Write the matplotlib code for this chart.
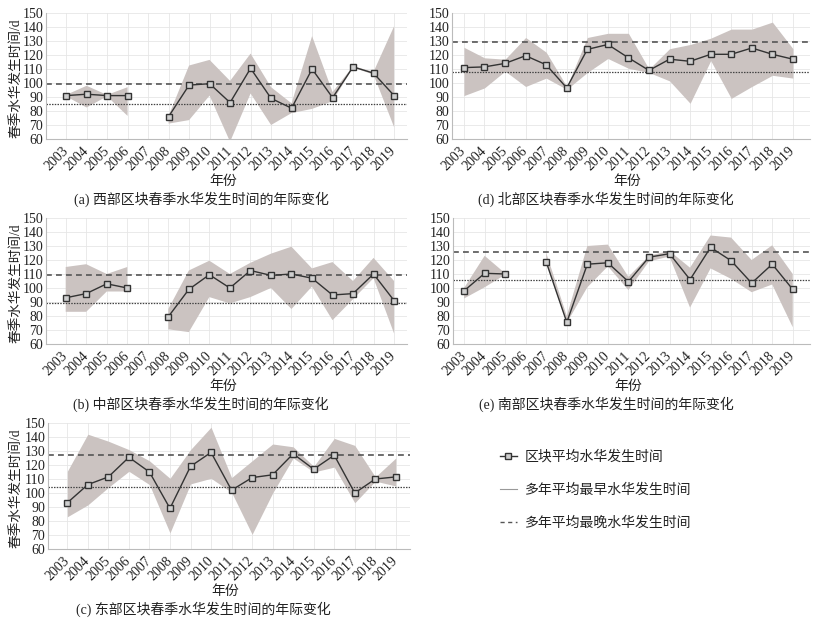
import numpy as np
import matplotlib
matplotlib.use("Agg")
import matplotlib.pyplot as plt
from matplotlib.lines import Line2D

plt.rcParams['font.family'] = ['Liberation Serif', 'Noto Sans CJK SC']
plt.rcParams['axes.unicode_minus'] = False

nan = np.nan
years = list(range(2003, 2020))
year_labels = [str(y) for y in years]

# (a) West
west_mean = [91, 92, 91, 91, nan, 76, 98.5, 99.5, 86, 110.5, 89, 82, 110, 89.5, 111.5, 107, 91]
west_upper = [91.5, 98, 91.5, 97, nan, 76.5, 112.5, 116.5, 101.5, 121, 97, 85.5, 133.5, 93.5, 112, 108, 140.5]
west_lower = [90.5, 82.5, 90.5, 76.5, nan, 71, 73.5, 91, 58, 92.5, 70, 78.5, 81.5, 87, 111, 106, 68.5]
west_early, west_late = 84.8, 99.3

# (d) North
north_mean = [111, 111.5, 114, 119.5, 113, 96.5, 124, 127.5, 118, 109, 117, 115.5, 120.5, 120.5, 125, 120.5, 117]
north_upper = [125.5, 118, 117, 132.5, 122, 97.5, 132.5, 135.5, 135.5, 110, 124.5, 127.5, 132, 138.5, 138.5, 143.5, 124.5]
north_lower = [91, 96.5, 108.5, 97.5, 103.5, 95.5, 107.5, 117.5, 110.5, 107.5, 101.5, 85.5, 116, 89, 97.5, 105.5, 103.5]
north_early, north_late = 107.7, 129.6

# (b) Central
central_mean = [93, 96, 103, 100, nan, 79.5, 99, 109.5, 100, 112.5, 109, 110, 107, 95, 96, 110, 91]
central_upper = [115, 117, 110, 115, nan, 85, 112.5, 119.5, 110, 118, 124.5, 129.5, 114, 118.5, 105, 121.5, 105]
central_lower = [83, 83, 97.5, 97.5, nan, 70.5, 68.5, 93.5, 89, 93.5, 100, 85, 101, 77, 92, 107, 67.5]
central_early, central_late = 89.3, 109.0

# (e) South
south_mean = [98, 110.5, 110, nan, 118.5, 75.5, 117, 118, 104.5, 122, 124.5, 106, 129, 119.5, 103.5, 117, 99]
south_upper = [100, 123, 110.5, nan, 125, 80, 130, 131, 108, 123, 126.5, 114.5, 137.5, 136, 120, 130.5, 110]
south_lower = [92.5, 100.5, 109.5, nan, 118, 75, 100.5, 115.5, 98.5, 119, 122.5, 86, 114, 106.5, 97, 102.5, 72]
south_early, south_late = 106.0, 125.7

# (c) East
east_mean = [93, 106, 111.5, 125.5, 115, 89, 119, 129, 102, 111, 113, 128, 117, 127, 100, 110, 111.5]
east_upper = [115.5, 142, 137, 131, 123, 110.5, 131, 147, 111, 123, 135, 133, 119, 139, 134, 111.5, 125]
east_lower = [83, 91.5, 104, 115.5, 106, 71.5, 106.5, 110.5, 100.5, 70.5, 100, 125, 115, 118.5, 93, 108.5, 105]
east_early, east_late = 104.0, 127.5

captions = {
    'a': '(a) 西部区块春季水华发生时间的年际变化',
    'd': '(d) 北部区块春季水华发生时间的年际变化',
    'b': '(b) 中部区块春季水华发生时间的年际变化',
    'e': '(e) 南部区块春季水华发生时间的年际变化',
    'c': '(c) 东部区块春季水华发生时间的年际变化',
}
ylabel_text = '春季水华发生时间/d'
xlabel_text = '年份'
legend_labels = ['区块平均水华发生时间', '多年平均最早水华发生时间', '多年平均最晚水华发生时间']

W, H = 819, 623
fig = plt.figure(figsize=(W / 100, H / 100), dpi=100)

BAND = '#cbc3c1'
LINE = '#333333'

def px_axes(l, r, t, b):
    return fig.add_axes([l / W, 1 - b / H, (r - l) / W, (b - t) / H])

panels = [
    ('a', (46, 407, 13, 139), (2002.02, 2019.63), west_mean, west_upper, west_lower, west_early, west_late, True),
    ('d', (452, 810, 13, 139), (2002.42, 2019.83), north_mean, north_upper, north_lower, north_early, north_late, False),
    ('b', (46, 407, 218, 344), (2002.04, 2019.63), central_mean, central_upper, central_lower, central_early, central_late, True),
    ('e', (453, 810, 218, 344), (2002.46, 2019.84), south_mean, south_upper, south_lower, south_early, south_late, False),
    ('c', (48, 410, 423, 549), (2002.06, 2019.69), east_mean, east_upper, east_lower, east_early, east_late, True),
]

for key, box, xl, mean, up, lo, early, late, show_ylab in panels:
    ax = px_axes(*box)
    hpx = box[3] - box[2]
    ax.fill_between(years, np.array(lo, float), np.array(up, float), color=BAND, lw=0, zorder=1)
    ax.axhline(early, color='#444444', lw=0.9, ls=(0, (1.2, 1.0)), zorder=2)
    ax.axhline(late, color='#555555', lw=1.2, ls=(0, (3.5, 2.5)), zorder=2)
    ax.plot(years, mean, color=LINE, lw=1.0, marker='s', ms=5, mfc='#cfcfcf', mec=LINE, mew=1.0, zorder=3)
    ax.set_xlim(*xl)
    ax.set_ylim(60, 150)
    ax.set_yticks(range(60, 151, 10))
    ax.set_xticks(years)
    ax.set_xticklabels(year_labels, rotation=45, ha='right', va='center', rotation_mode='anchor')
    ax.tick_params(axis='both', length=0, labelsize=10, colors='#222222')
    ax.tick_params(axis='x', pad=7)
    ax.tick_params(axis='y', pad=2)
    ax.grid(True, color='#e6e6e6', lw=0.6)
    ax.set_axisbelow(True)
    for s in ['top', 'right']:
        ax.spines[s].set_visible(False)
    for s in ['left', 'bottom']:
        ax.spines[s].set_color('#bbbbbb')
        ax.spines[s].set_linewidth(0.8)
    if show_ylab:
        ax.set_ylabel(ylabel_text, fontsize=9.8, color='#222222')
        ax.yaxis.set_label_coords(-(box[0] - 22) / (box[1] - box[0]), 0.48)
    ax.text(0.5 - 0.01, -42 / hpx, xlabel_text, transform=ax.transAxes, ha='center', va='center',
            fontsize=10, color='#222222')
    ax.text(0.43, -60 / hpx, captions[key], transform=ax.transAxes, ha='center', va='center',
            fontsize=10, color='#222222')

handles = [
    Line2D([], [], color=LINE, lw=1.0, marker='s', ms=5, mfc='#cfcfcf', mec=LINE),
    Line2D([], [], color='#999999', lw=0.8),
    Line2D([], [], color='#555555', lw=1.0, ls=(0, (3, 2.5))),
]
fig.legend(handles, legend_labels, loc='upper left', bbox_to_anchor=(500 / W, 1 - 450 / H),
           frameon=False, fontsize=10, handlelength=1.2, handletextpad=0.6,
           labelspacing=1.42, borderpad=0, borderaxespad=0, labelcolor='#222222')

fig.savefig('out.png', dpi=100)
